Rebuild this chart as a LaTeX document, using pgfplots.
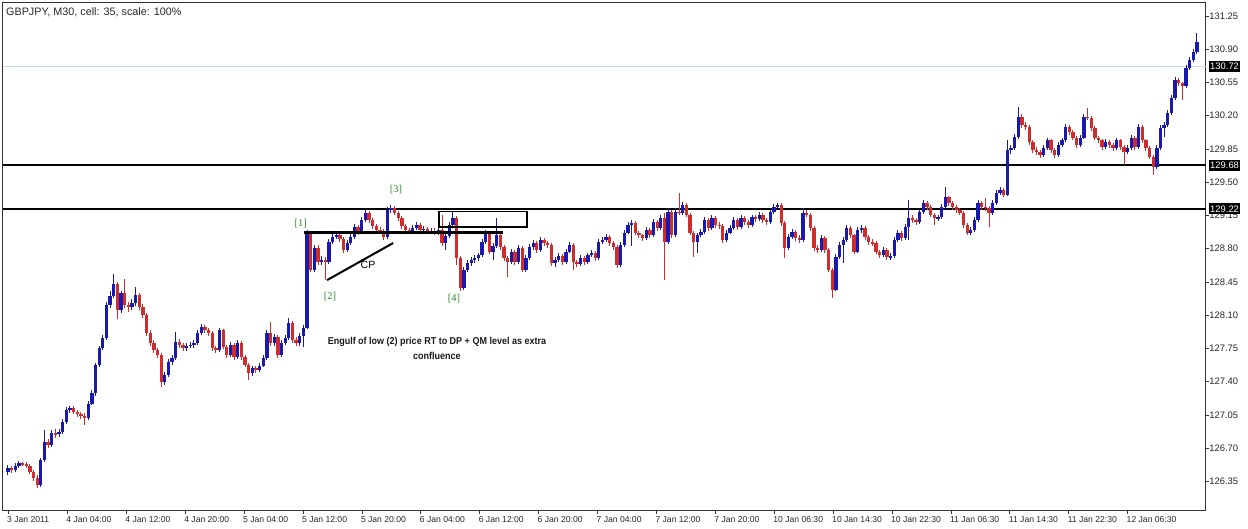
\documentclass[border=0pt]{standalone}
\usepackage{fontspec}
\setmainfont{Liberation Sans}
\newfontfamily\narrowfont[FakeStretch=0.9]{Liberation Sans}
\newfontfamily\serifg{Liberation Serif}
\usepackage{pgfplots}
\pgfplotsset{compat=1.18}
\usepackage{pgfplotstable}
\definecolor{cblue}{RGB}{25,25,175}
\definecolor{cred}{RGB}{205,45,45}
\definecolor{cgreen}{RGB}{45,140,45}
\definecolor{bidline}{RGB}{195,222,228}

\pgfplotstableread{
i o c h l
0 126.45 126.49 126.52 126.42
1 126.49 126.47 126.51 126.44
2 126.47 126.51 126.54 126.45
3 126.51 126.54 126.57 126.49
4 126.54 126.53 126.56 126.51
5 126.53 126.51 126.55 126.49
6 126.51 126.45 126.53 126.43
7 126.45 126.39 126.47 126.36
8 126.39 126.31 126.42 126.28
9 126.31 126.58 126.60 126.29
10 126.58 126.77 126.89 126.56
11 126.77 126.73 126.80 126.70
12 126.73 126.86 126.89 126.71
13 126.86 126.85 126.90 126.81
14 126.85 126.87 126.90 126.82
15 126.87 126.98 127.01 126.85
16 126.98 127.10 127.13 126.96
17 127.10 127.12 127.14 127.07
18 127.12 127.08 127.14 127.06
19 127.08 127.06 127.10 127.03
20 127.06 127.04 127.08 127.01
21 127.04 127.02 127.07 126.94
22 127.02 127.17 127.20 127.00
23 127.17 127.28 127.31 127.15
24 127.28 127.58 127.60 127.25
25 127.58 127.75 127.78 127.55
26 127.75 127.86 127.89 127.73
27 127.86 128.21 128.24 127.84
28 128.21 128.30 128.36 128.18
29 128.30 128.43 128.53 128.28
30 128.43 128.15 128.45 128.06
31 128.15 128.33 128.36 128.12
32 128.33 128.21 128.48 128.18
33 128.21 128.19 128.24 128.13
34 128.19 128.23 128.27 128.15
35 128.23 128.31 128.40 128.20
36 128.31 128.19 128.33 128.16
37 128.19 128.10 128.22 128.07
38 128.10 127.91 128.12 127.88
39 127.91 127.81 127.94 127.78
40 127.81 127.73 127.84 127.70
41 127.73 127.68 127.76 127.65
42 127.68 127.40 127.70 127.34
43 127.40 127.47 127.50 127.37
44 127.47 127.61 127.64 127.45
45 127.61 127.65 127.68 127.58
46 127.65 127.82 127.92 127.63
47 127.82 127.79 127.85 127.76
48 127.79 127.75 127.81 127.72
49 127.75 127.78 127.81 127.72
50 127.78 127.79 127.82 127.75
51 127.79 127.81 127.84 127.76
52 127.81 127.91 127.94 127.79
53 127.91 127.98 128.01 127.89
54 127.98 127.94 128.00 127.91
55 127.94 127.91 127.97 127.88
56 127.91 127.75 127.93 127.72
57 127.75 127.73 127.78 127.70
58 127.73 127.94 127.97 127.71
59 127.94 127.77 127.96 127.74
60 127.77 127.68 127.79 127.65
61 127.68 127.79 127.82 127.66
62 127.79 127.66 127.81 127.63
63 127.66 127.81 127.84 127.64
64 127.81 127.66 127.83 127.63
65 127.66 127.58 127.68 127.55
66 127.58 127.49 127.60 127.42
67 127.49 127.54 127.57 127.46
68 127.54 127.52 127.57 127.49
69 127.52 127.57 127.60 127.50
70 127.57 127.65 127.68 127.55
71 127.65 127.91 127.94 127.63
72 127.91 127.81 128.03 127.78
73 127.81 127.87 127.90 127.78
74 127.87 127.68 127.89 127.65
75 127.68 127.81 127.84 127.66
76 127.81 127.86 127.89 127.79
77 127.86 128.02 128.07 127.84
78 128.02 127.84 128.04 127.81
79 127.84 127.81 127.87 127.78
80 127.81 127.88 127.91 127.78
81 127.88 127.97 128.00 127.77
82 127.97 128.97 129.00 127.95
83 128.97 128.58 128.99 128.55
84 128.58 128.81 128.84 128.56
85 128.81 128.66 128.84 128.63
86 128.66 128.68 128.72 128.63
87 128.68 128.66 128.71 128.47
88 128.66 128.87 128.90 128.64
89 128.87 128.92 128.95 128.85
90 128.92 128.94 128.97 128.90
91 128.94 128.90 128.97 128.87
92 128.90 128.79 128.92 128.76
93 128.79 128.86 128.89 128.77
94 128.86 128.92 128.95 128.84
95 128.92 129.03 129.06 128.90
96 129.03 128.97 129.05 128.94
97 128.97 129.10 129.13 128.95
98 129.10 129.18 129.21 129.08
99 129.18 129.10 129.20 129.07
100 129.10 129.04 129.12 129.01
101 129.04 129.00 129.06 128.97
102 129.00 128.99 129.03 128.96
103 128.99 128.92 129.01 128.89
104 128.92 129.21 129.24 128.90
105 129.21 129.23 129.26 129.18
106 129.23 129.18 129.25 129.15
107 129.18 129.12 129.20 129.09
108 129.12 129.04 129.14 129.01
109 129.04 129.00 129.06 128.97
110 129.00 128.98 129.02 128.95
111 128.98 129.02 129.05 128.96
112 129.02 129.05 129.08 129.00
113 129.05 129.00 129.07 128.97
114 129.00 129.01 129.04 128.97
115 129.01 128.98 129.03 128.95
116 128.98 128.99 129.02 128.95
117 128.99 128.97 129.02 128.94
118 128.97 129.00 129.03 128.94
119 129.00 128.86 129.16 128.83
120 128.86 128.93 128.96 128.79
121 128.93 129.05 129.08 128.91
122 129.05 129.12 129.19 129.03
123 129.12 128.70 129.14 128.63
124 128.70 128.39 128.72 128.36
125 128.39 128.58 128.61 128.37
126 128.58 128.65 128.68 128.55
127 128.65 128.68 128.71 128.62
128 128.68 128.70 128.73 128.65
129 128.70 128.73 128.76 128.67
130 128.73 128.87 128.90 128.71
131 128.87 128.97 129.00 128.85
132 128.97 128.77 128.99 128.74
133 128.77 128.83 128.86 128.68
134 128.83 128.94 129.12 128.81
135 128.94 128.82 128.96 128.79
136 128.82 128.70 128.84 128.67
137 128.70 128.66 128.72 128.50
138 128.66 128.77 128.80 128.64
139 128.77 128.66 128.79 128.63
140 128.66 128.81 128.84 128.64
141 128.81 128.58 128.83 128.55
142 128.58 128.70 128.73 128.56
143 128.70 128.82 128.85 128.68
144 128.82 128.86 128.89 128.79
145 128.86 128.79 128.88 128.76
146 128.79 128.89 128.92 128.77
147 128.89 128.86 128.91 128.83
148 128.86 128.84 128.88 128.81
149 128.84 128.65 128.86 128.62
150 128.65 128.68 128.71 128.61
151 128.68 128.72 128.75 128.66
152 128.72 128.66 128.74 128.63
153 128.66 128.77 128.80 128.64
154 128.77 128.84 128.87 128.75
155 128.84 128.66 128.86 128.58
156 128.66 128.64 128.68 128.61
157 128.64 128.70 128.73 128.62
158 128.70 128.66 128.72 128.63
159 128.66 128.73 128.76 128.64
160 128.73 128.76 128.79 128.71
161 128.76 128.70 128.78 128.67
162 128.70 128.87 128.90 128.68
163 128.87 128.89 128.92 128.85
164 128.89 128.92 128.95 128.87
165 128.92 128.86 128.94 128.83
166 128.86 128.82 128.88 128.79
167 128.82 128.63 128.84 128.60
168 128.63 128.84 128.87 128.61
169 128.84 128.97 129.00 128.82
170 128.97 129.05 129.08 128.95
171 129.05 129.07 129.10 128.83
172 129.07 128.97 129.09 128.94
173 128.97 128.94 128.99 128.91
174 128.94 128.91 128.96 128.88
175 128.91 129.00 129.03 128.89
176 129.00 128.94 129.02 128.91
177 128.94 129.08 129.11 128.92
178 129.08 129.02 129.10 128.99
179 129.02 129.12 129.15 129.00
180 129.12 128.87 129.18 128.47
181 128.87 129.19 129.23 128.85
182 129.19 128.94 129.21 128.91
183 128.94 129.19 129.23 128.92
184 129.19 129.18 129.39 129.15
185 129.18 129.26 129.29 129.16
186 129.26 129.16 129.28 129.13
187 129.16 128.97 129.18 128.94
188 128.97 128.87 128.99 128.71
189 128.87 128.94 128.97 128.76
190 128.94 128.98 129.01 128.92
191 128.98 129.10 129.13 128.96
192 129.10 129.02 129.12 128.99
193 129.02 129.12 129.15 129.00
194 129.12 129.05 129.14 129.02
195 129.05 129.04 129.08 129.01
196 129.04 128.89 129.06 128.86
197 128.89 128.97 129.00 128.87
198 128.97 129.02 129.05 128.95
199 129.02 129.10 129.13 129.00
200 129.10 129.03 129.12 129.00
201 129.03 129.12 129.15 129.01
202 129.12 129.08 129.14 129.05
203 129.08 129.05 129.10 129.02
204 129.05 129.13 129.16 129.03
205 129.13 129.11 129.16 129.08
206 129.11 129.16 129.19 129.09
207 129.16 129.10 129.18 129.07
208 129.10 129.08 129.12 129.05
209 129.08 129.19 129.22 129.06
210 129.19 129.24 129.27 129.17
211 129.24 129.26 129.28 129.22
212 129.26 129.07 129.28 129.04
213 129.07 128.81 129.09 128.70
214 128.81 128.92 128.95 128.79
215 128.92 128.98 129.01 128.90
216 128.98 128.91 129.00 128.88
217 128.91 128.89 128.94 128.86
218 128.89 129.18 129.23 128.87
219 129.18 129.16 129.21 129.13
220 129.16 129.02 129.18 128.99
221 129.02 128.81 129.04 128.78
222 128.81 128.79 128.84 128.76
223 128.79 128.91 128.94 128.77
224 128.91 128.79 128.93 128.76
225 128.79 128.58 128.81 128.55
226 128.58 128.37 128.60 128.28
227 128.37 128.71 128.74 128.35
228 128.71 128.84 128.87 128.69
229 128.84 128.89 128.92 128.65
230 128.89 129.02 129.05 128.87
231 129.02 128.94 129.04 128.91
232 128.94 128.77 128.96 128.74
233 128.77 129.00 129.03 128.75
234 129.00 129.02 129.05 128.97
235 129.02 128.92 129.04 128.89
236 128.92 128.87 128.94 128.84
237 128.87 128.86 128.90 128.83
238 128.86 128.77 128.88 128.74
239 128.77 128.73 128.79 128.70
240 128.73 128.79 128.82 128.71
241 128.79 128.71 128.81 128.68
242 128.71 128.72 128.75 128.68
243 128.72 128.89 128.92 128.70
244 128.89 128.97 129.00 128.87
245 128.97 128.91 128.99 128.88
246 128.91 129.03 129.06 128.89
247 129.03 129.12 129.31 128.89
248 129.12 129.10 129.15 129.07
249 129.10 129.08 129.12 129.05
250 129.08 129.19 129.22 129.06
251 129.19 129.28 129.31 129.17
252 129.28 129.24 129.30 129.21
253 129.24 129.16 129.26 129.13
254 129.16 129.12 129.18 129.05
255 129.12 129.13 129.16 129.09
256 129.13 129.24 129.27 129.11
257 129.24 129.34 129.45 129.22
258 129.34 129.28 129.36 129.25
259 129.28 129.24 129.30 129.21
260 129.24 129.21 129.26 129.18
261 129.21 129.18 129.23 129.15
262 129.18 129.05 129.20 129.02
263 129.05 128.97 129.07 128.94
264 128.97 129.00 129.03 128.94
265 129.00 129.10 129.13 128.98
266 129.10 129.28 129.31 129.08
267 129.28 129.24 129.30 129.21
268 129.24 129.23 129.33 129.20
269 129.23 129.18 129.25 129.03
270 129.18 129.28 129.31 129.16
271 129.28 129.39 129.42 129.26
272 129.39 129.42 129.45 129.37
273 129.42 129.37 129.44 129.34
274 129.37 129.84 129.94 129.35
275 129.84 129.86 129.89 129.80
276 129.86 129.98 130.01 129.84
277 129.98 130.19 130.29 129.96
278 130.19 130.10 130.22 130.07
279 130.10 130.08 130.13 130.05
280 130.08 129.92 130.10 129.89
281 129.92 129.84 129.94 129.81
282 129.84 129.82 129.87 129.79
283 129.82 129.79 129.84 129.76
284 129.79 129.86 129.89 129.77
285 129.86 129.94 129.97 129.84
286 129.94 129.84 129.96 129.81
287 129.84 129.79 129.86 129.76
288 129.79 129.89 129.92 129.77
289 129.89 129.94 129.97 129.87
290 129.94 130.08 130.11 129.92
291 130.08 130.03 130.10 130.00
292 130.03 129.97 130.05 129.94
293 129.97 129.89 129.99 129.86
294 129.89 129.97 130.00 129.87
295 129.97 130.19 130.22 129.95
296 130.19 130.18 130.28 130.15
297 130.18 130.07 130.20 130.04
298 130.07 129.97 130.09 129.94
299 129.97 129.94 129.99 129.91
300 129.94 129.87 129.96 129.84
301 129.87 129.92 129.95 129.85
302 129.92 129.89 129.94 129.86
303 129.89 129.86 129.91 129.83
304 129.86 129.94 129.97 129.84
305 129.94 129.87 129.96 129.84
306 129.87 129.82 129.89 129.68
307 129.82 129.86 129.89 129.80
308 129.86 129.97 130.00 129.84
309 129.97 129.87 129.99 129.84
310 129.87 130.08 130.11 129.85
311 130.08 129.94 130.10 129.91
312 129.94 129.86 129.96 129.83
313 129.86 129.77 129.88 129.74
314 129.77 129.66 129.79 129.58
315 129.66 129.86 129.89 129.64
316 129.86 130.07 130.10 129.84
317 130.07 130.10 130.13 129.98
318 130.10 130.23 130.26 130.08
319 130.23 130.39 130.42 130.21
320 130.39 130.58 130.61 130.37
321 130.58 130.54 130.60 130.51
322 130.54 130.51 130.56 130.37
323 130.51 130.70 130.73 130.49
324 130.70 130.79 130.82 130.68
325 130.79 130.87 130.90 130.77
326 130.87 130.98 131.07 130.85
}\candles

\begin{document}
\begin{tikzpicture}
\path[use as bounding box] (0,0) rectangle (1248pt,529pt);
\begin{axis}[
  at={(2.7pt,18.3pt)}, anchor=south west,
  scale only axis, width=1203pt, height=508pt,
  xmin=-1.45, xmax=328.4, ymin=126.0426, ymax=131.390,
  clip=false,
  axis line style={draw=black!80, line width=0.8pt},
  ytick={126.35,126.70,127.05,127.40,127.75,128.10,128.45,128.80,129.15,129.50,129.85,130.20,130.55,130.90,131.25},
  ytick pos=right, yticklabel pos=right,
  xtick pos=bottom,
  tick align=outside,
  major tick length=3.5pt,
  tick style={draw=black!80, line width=0.6pt},
  xtick={0,16.26,32.41,48.56,64.71,80.86,97.01,113.16,129.31,145.46,161.61,177.76,193.91,210.06,226.21,242.36,258.51,274.66,290.81,306.96},
  xticklabels={3 Jan 2011,4 Jan 04:00,4 Jan 12:00,4 Jan 20:00,5 Jan 04:00,5 Jan 12:00,5 Jan 20:00,6 Jan 04:00,6 Jan 12:00,6 Jan 20:00,7 Jan 04:00,7 Jan 12:00,7 Jan 20:00,10 Jan 06:30,10 Jan 14:30,10 Jan 22:30,11 Jan 06:30,11 Jan 14:30,11 Jan 22:30,12 Jan 06:30},
  xticklabel style={anchor=north west, inner sep=0pt, xshift=-1pt, yshift=-2.5pt, font=\fontsize{8.6}{9}\selectfont, text=black!85},
  yticklabel style={anchor=west, inner sep=0pt, font=\fontsize{9.4}{10}\selectfont, text=black!85},
  /pgf/number format/.cd, fixed, fixed zerofill, precision=2, assume math mode=true,
  /pgfplots/.cd,
  scaled y ticks=false,
]
% reference lines
\addplot[bidline, line width=0.8pt, forget plot] coordinates {(-1.45,130.72) (328.4,130.72)};
\addplot[black, line width=2pt, forget plot] coordinates {(-1.45,129.68) (328.4,129.68)};
\addplot[black, line width=2pt, forget plot] coordinates {(-1.45,129.22) (328.4,129.22)};
% wicks
\addplot[draw=none, mark=none, forget plot, error bars/.cd, y dir=both, y explicit, error mark=none, error bar style={draw=cblue, line width=1pt}]
  table[x=i, y expr={\thisrow{c}>=\thisrow{o} ? 0.5*(\thisrow{h}+\thisrow{l}) : nan}, y error expr={0.5*(\thisrow{h}-\thisrow{l})}] {\candles};
\addplot[draw=none, mark=none, forget plot, error bars/.cd, y dir=both, y explicit, error mark=none, error bar style={draw=cred, line width=1pt}]
  table[x=i, y expr={\thisrow{c}<\thisrow{o} ? 0.5*(\thisrow{h}+\thisrow{l}) : nan}, y error expr={0.5*(\thisrow{h}-\thisrow{l})}] {\candles};
% bodies
\addplot[draw=none, mark=none, forget plot, error bars/.cd, y dir=both, y explicit, error mark=none, error bar style={draw=cblue, line width=3.3pt}]
  table[x=i, y expr={\thisrow{c}>=\thisrow{o} ? 0.5*(\thisrow{o}+\thisrow{c}) : nan}, y error expr={max(0.5*abs(\thisrow{c}-\thisrow{o}),0.005)}] {\candles};
\addplot[draw=none, mark=none, forget plot, error bars/.cd, y dir=both, y explicit, error mark=none, error bar style={draw=cred, line width=3.3pt}]
  table[x=i, y expr={\thisrow{c}<\thisrow{o} ? 0.5*(\thisrow{o}+\thisrow{c}) : nan}, y error expr={max(0.5*abs(\thisrow{c}-\thisrow{o}),0.005)}] {\candles};
% annotations
\draw[black, line width=2.4pt] (axis cs:81.2,128.97) -- (axis cs:135.7,128.97);
\draw[black, line width=2pt] (axis cs:87.5,128.47) -- (axis cs:105.6,128.86);
\draw[black, line width=1.4pt] (axis cs:118.2,129.19) rectangle (axis cs:142.3,129.03);
\node[text=cgreen, font=\serifg\fontsize{10.5}{11}\selectfont, inner sep=0pt] at (axis cs:80.3,129.06) {[1]};
\node[text=cgreen, font=\serifg\fontsize{10.5}{11}\selectfont, inner sep=0pt] at (axis cs:88.3,128.30) {[2]};
\node[text=cgreen, font=\serifg\fontsize{10.5}{11}\selectfont, inner sep=0pt] at (axis cs:106.4,129.42) {[3]};
\node[text=cgreen, font=\serifg\fontsize{10.5}{11}\selectfont, inner sep=0pt] at (axis cs:122.3,128.28) {[4]};
\node[text=black, font=\fontsize{10.5}{11}\selectfont, inner sep=0pt] at (axis cs:98.7,128.63) {CP};
\node[text=black!90, font=\narrowfont\bfseries\fontsize{10}{15}\selectfont, align=center, inner sep=0pt] at (axis cs:117.6,127.75) {Engulf of low (2) price RT to DP + QM level as extra\\confluence};
\node[anchor=west, text=black!85, font=\fontsize{10.8}{12}\selectfont, inner sep=0pt] at (axis cs:-0.55,131.29) {GBPJPY, M30, cell: 35, scale: 100\%};
\coordinate (b1) at (axis cs:328.4,130.72);
\coordinate (b2) at (axis cs:328.4,129.68);
\coordinate (b3) at (axis cs:328.4,129.22);
\end{axis}
\foreach \c/\t in {b1/130.72, b2/129.68, b3/129.22}{
  \node[anchor=west, fill=black, text=white, inner xsep=1.5pt, inner ysep=0pt, minimum height=11pt, font=\fontsize{9.4}{10}\selectfont, xshift=2.8pt] at (\c) {\t};
}
\end{tikzpicture}
\end{document}
